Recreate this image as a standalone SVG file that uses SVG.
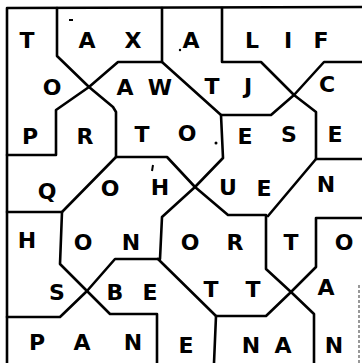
<svg xmlns="http://www.w3.org/2000/svg" width="362" height="363" viewBox="0 0 362 363">
<style>
.ln{fill:none;stroke:#000;stroke-width:2.6;stroke-linejoin:round;stroke-linecap:round}
.lt{font-family:"DejaVu Sans","Liberation Sans",sans-serif;font-weight:bold;font-size:22px;fill:#000;text-anchor:middle}
</style>
<rect width="362" height="363" fill="#fff"/>
<g id="connectors">
<path class="ln" d="M7,363 V8 L362,7"/>
<path class="ln" d="M57,8 V56 L89,87 L113,107 L116,112 V157 H167 L195,187 L228,215 H266 V269 L291,292 L314,314 V363"/>
<path class="ln" d="M7,155 H56 V110 L89,87 L118,62 H162 V8"/>
<path class="ln" d="M162,62 L221,115 L223,158 L195,187 L162,217 L160,259 H115 L87,291 L60,317 H7"/>
<path class="ln" d="M222,8 V62 H261 L294,95 L316,112 V159 H362"/>
<path class="ln" d="M221,115 H271 L294,95 L324,62 H362"/>
<path class="ln" d="M116,157 L62,212 H7"/>
<path class="ln" d="M62,212 L60,264 L87,291 L110,314 H157 V363"/>
<path class="ln" d="M316,159 L268,216"/>
<path class="ln" d="M158,259 L216,316 H266 L291,292 L316,267 V218 H362"/>
<path class="ln" d="M216,316 L214,363"/>
<path d="M359,285 V363" fill="none" stroke="#777" stroke-width="1.5" stroke-dasharray="3,2"/>
<path d="M69,20 H73" stroke="#000" stroke-width="2"/>
<circle cx="180" cy="50" r="1.2" fill="#000"/>
<circle cx="216" cy="143" r="1.5" fill="#000"/>
<path d="M153,165 L152,171" stroke="#000" stroke-width="2"/>
</g>
<g id="row1">
<text class="lt" x="27" y="48">T</text><text class="lt" x="87" y="48">A</text><text class="lt" x="133" y="48">X</text><text class="lt" x="191" y="48">A</text><text class="lt" x="252" y="48">L</text><text class="lt" x="288" y="48">I</text><text class="lt" x="321" y="48">F</text>
</g>
<g id="row2">
<text class="lt" x="52" y="95">O</text><text class="lt" x="125" y="95">A</text><text class="lt" x="160" y="95">W</text><text class="lt" x="212" y="94">T</text><text class="lt" x="248" y="94">J</text><text class="lt" x="327" y="92">C</text>
</g>
<g id="row3">
<text class="lt" x="30" y="144">P</text><text class="lt" x="85" y="144">R</text><text class="lt" x="142" y="142">T</text><text class="lt" x="187" y="141">O</text><text class="lt" x="245" y="144">E</text><text class="lt" x="289" y="142">S</text><text class="lt" x="335" y="142">E</text>
</g>
<g id="row4">
<text class="lt" x="47" y="199">Q</text><text class="lt" x="110" y="196">O</text><text class="lt" x="160" y="195">H</text><text class="lt" x="228" y="195">U</text><text class="lt" x="264" y="196">E</text><text class="lt" x="326" y="192">N</text>
</g>
<g id="row5">
<text class="lt" x="27" y="248">H</text><text class="lt" x="83" y="250">O</text><text class="lt" x="131" y="250">N</text><text class="lt" x="190" y="250">O</text><text class="lt" x="235" y="250">R</text><text class="lt" x="291" y="250">T</text><text class="lt" x="344" y="250">O</text>
</g>
<g id="row6">
<text class="lt" x="57" y="300">S</text><text class="lt" x="115" y="300">B</text><text class="lt" x="150" y="300">E</text><text class="lt" x="211" y="297">T</text><text class="lt" x="253" y="297">T</text><text class="lt" x="326" y="295">A</text>
</g>
<g id="row7">
<text class="lt" x="37" y="350">P</text><text class="lt" x="82" y="350">A</text><text class="lt" x="133" y="350">N</text><text class="lt" x="186" y="353">E</text><text class="lt" x="251" y="353">N</text><text class="lt" x="283" y="353">A</text><text class="lt" x="334" y="353">N</text>
</g>
</svg>
